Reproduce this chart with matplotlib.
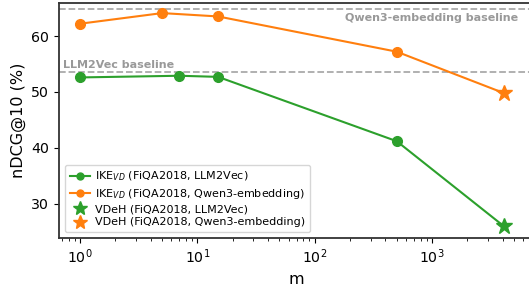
import matplotlib
matplotlib.use("Agg")
import matplotlib.pyplot as plt

# data
m_llm = [1, 7, 15, 500]
ndcg_llm = [52.6, 52.9, 52.7, 41.2]
m_qwen = [1, 5, 15, 500]
ndcg_qwen = [62.2, 64.1, 63.5, 57.2]
m_vdeh = 4096
vdeh_llm = 26.0
vdeh_qwen = 49.8
base_llm = 53.6
base_qwen = 64.8

green = "#2ca02c"
orange = "#ff7f0e"

fig = plt.figure(figsize=(5.29, 2.93), dpi=100)
ax = fig.add_axes([0.1115, 0.1877, 0.896, 0.802])

ax.axhline(base_qwen, color="#aaaaaa", ls="--", lw=1.3, zorder=1)
ax.axhline(base_llm, color="#aaaaaa", ls="--", lw=1.3, zorder=1)

ax.plot(m_llm, ndcg_llm, "-o", color=green, lw=1.5, ms=7,
        label=r"IKE$_{VD}$ (FiQA2018, LLM2Vec)")
ax.plot(m_qwen, ndcg_qwen, "-o", color=orange, lw=1.5, ms=7,
        label=r"IKE$_{VD}$ (FiQA2018, Qwen3-embedding)")
# connect last point to the VDeH star
ax.plot([m_llm[-1], m_vdeh], [ndcg_llm[-1], vdeh_llm], "-", color=green, lw=1.5)
ax.plot([m_qwen[-1], m_vdeh], [ndcg_qwen[-1], vdeh_qwen], "-", color=orange, lw=1.5)
ax.plot(m_vdeh, vdeh_llm, "*", color=green, ms=12, ls="none",
        label="VDeH (FiQA2018, LLM2Vec)")
ax.plot(m_vdeh, vdeh_qwen, "*", color=orange, ms=12, ls="none",
        label="VDeH (FiQA2018, Qwen3-embedding)")

ax.set_xscale("log")
ax.set_xlim(10 ** -0.18, 10 ** 3.86)
ax.set_ylim(23.9, 65.9)
ax.set_yticks([30, 40, 50, 60])

ax.text(5400, base_qwen - 0.6, "Qwen3-embedding baseline", ha="right", va="top",
        fontsize=8, fontweight="bold", color="#999999")
ax.text(10 ** -0.15, base_llm + 0.3, "LLM2Vec baseline", ha="left", va="bottom",
        fontsize=8, fontweight="bold", color="#999999")

ax.set_xlabel("m", fontsize=11.5)
ax.set_ylabel("nDCG@10 (%)", fontsize=11.5)
ax.tick_params(labelsize=10.2)
for s in ax.spines.values():
    s.set_color("#333333")
    s.set_linewidth(1.3)

leg = ax.legend(loc="lower left", fontsize=8, handlelength=1.8, labelspacing=0.3,
                borderpad=0.45, handletextpad=0.5)
for h, size in zip(leg.legend_handles, [5, 5, 10, 10]):
    h.set_markersize(size)

fig.savefig("out.png", dpi=100)
